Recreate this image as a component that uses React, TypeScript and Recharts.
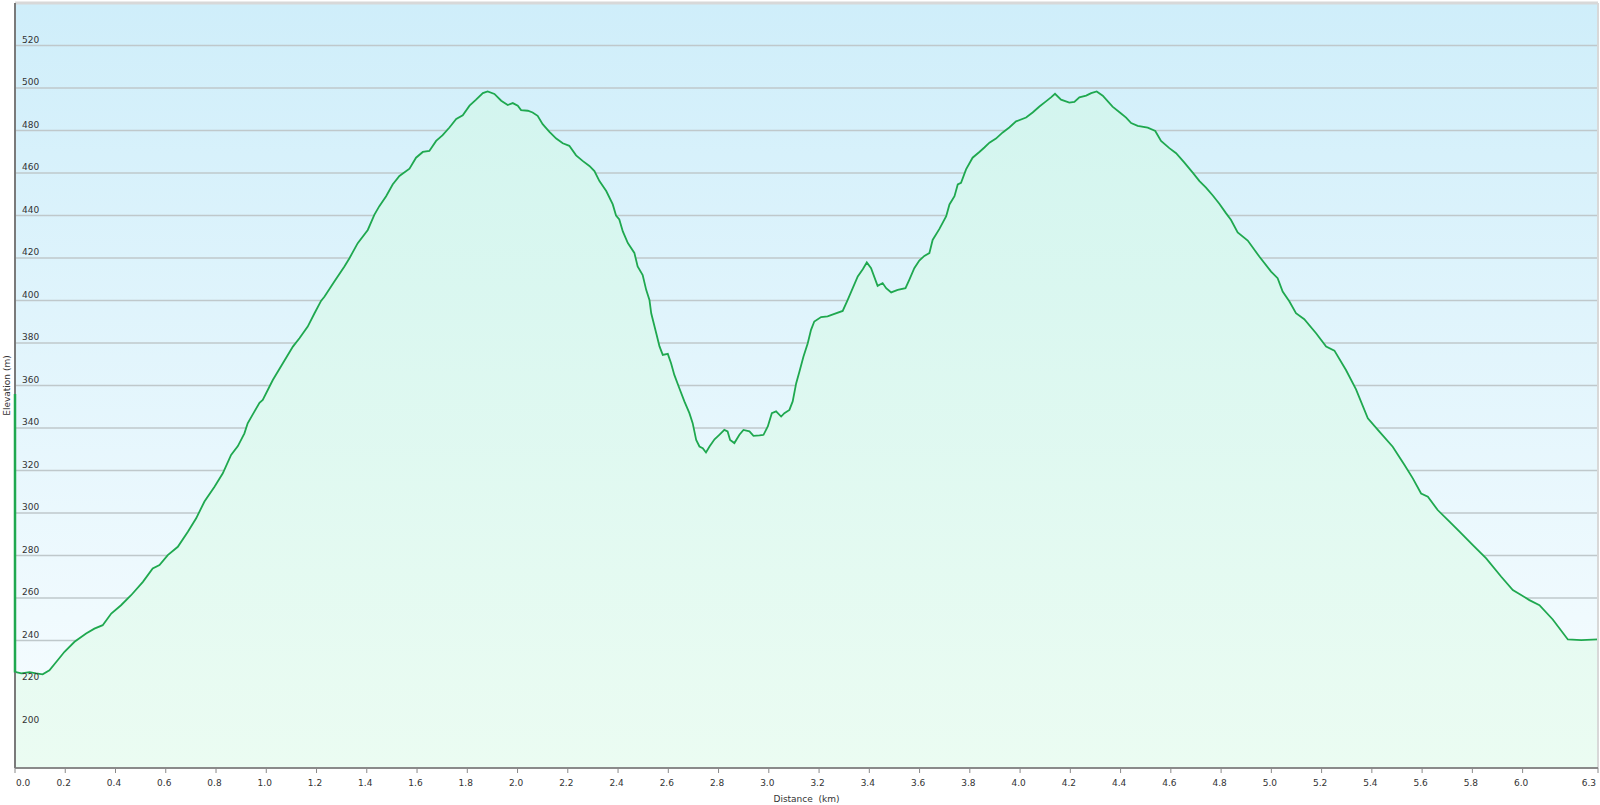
import { AreaChart, Area, XAxis, YAxis, CartesianGrid, ReferenceLine } from "recharts";

// distance along the track (km)
const DISTANCE = [
  0, 0.025, 0.058, 0.084, 0.11, 0.137, 0.164, 0.197, 0.237, 0.283, 0.316, 0.349, 0.383, 0.422, 0.462,
  0.509, 0.548, 0.575, 0.608, 0.648, 0.688, 0.721, 0.754, 0.794, 0.827, 0.86, 0.887, 0.913, 0.926, 0.973,
  0.986, 1.026, 1.066, 1.106, 1.132, 1.165, 1.192, 1.218, 1.232, 1.271, 1.311, 1.331, 1.364, 1.404, 1.43,
  1.45, 1.477, 1.503, 1.53, 1.57, 1.596, 1.623, 1.649, 1.676, 1.702, 1.729, 1.756, 1.782, 1.809, 1.835,
  1.862, 1.881, 1.908, 1.935, 1.961, 1.981, 2.001, 2.014, 2.041, 2.06, 2.08, 2.1, 2.127, 2.154, 2.18,
  2.206, 2.233, 2.259, 2.286, 2.306, 2.326, 2.353, 2.379, 2.392, 2.405, 2.419, 2.439, 2.465, 2.478, 2.498,
  2.512, 2.525, 2.532, 2.552, 2.565, 2.578, 2.598, 2.611, 2.624, 2.644, 2.664, 2.684, 2.697, 2.711, 2.724,
  2.737, 2.75, 2.764, 2.784, 2.803, 2.823, 2.836, 2.846, 2.863, 2.883, 2.899, 2.923, 2.939, 2.963, 2.979,
  2.996, 3.012, 3.029, 3.049, 3.062, 3.082, 3.095, 3.109, 3.122, 3.138, 3.155, 3.168, 3.181, 3.208, 3.234,
  3.261, 3.294, 3.314, 3.334, 3.354, 3.374, 3.39, 3.407, 3.433, 3.453, 3.467, 3.487, 3.513, 3.544, 3.559,
  3.579, 3.599, 3.619, 3.639, 3.652, 3.679, 3.706, 3.719, 3.739, 3.752, 3.765, 3.785, 3.811, 3.838, 3.858,
  3.878, 3.904, 3.931, 3.957, 3.984, 4.024, 4.05, 4.077, 4.103, 4.123, 4.139, 4.163, 4.196, 4.216, 4.236,
  4.263, 4.283, 4.305, 4.329, 4.368, 4.402, 4.422, 4.442, 4.468, 4.508, 4.538, 4.561, 4.594, 4.621, 4.654,
  4.687, 4.714, 4.74, 4.767, 4.793, 4.82, 4.839, 4.866, 4.906, 4.952, 4.999, 5.025, 5.045, 5.072, 5.098,
  5.131, 5.178, 5.218, 5.251, 5.297, 5.337, 5.384, 5.43, 5.483, 5.53, 5.563, 5.596, 5.623, 5.662, 5.709,
  5.749, 5.802, 5.855, 5.915, 5.961, 5.994, 6.027, 6.067, 6.12, 6.18, 6.233, 6.3,
];

// elevation (m)
const ELEVATION = [
  225.2, 224.5, 225.1, 224.5, 224.1, 226, 229.9, 234.7, 239.4, 243.3, 245.6, 247.2, 252.7, 256.6, 261.3,
  267.6, 273.9, 275.5, 280.2, 284.1, 291.2, 297.5, 305.4, 312.4, 318.7, 327.3, 331.5, 337.5, 342.2, 351.9,
  353.2, 362.6, 370.5, 378.3, 382.2, 387.7, 394, 399.8, 401.9, 408.9, 416, 419.9, 427, 433.2, 440.3,
  444.4, 449.1, 454.6, 458.6, 462, 467.2, 469.9, 470.4, 475.1, 477.8, 481.4, 485.4, 487.2, 491.7, 494.5,
  497.6, 498.4, 497.2, 494, 492, 492.9, 491.7, 489.6, 489.3, 488.5, 486.9, 483, 479.4, 476.2, 474,
  472.8, 468.3, 465.7, 463.3, 460.9, 456.2, 451.5, 445.2, 440, 438.1, 432.5, 427, 422.4, 416, 412,
  405, 400.3, 394, 384.6, 378.4, 374.4, 374.9, 370.5, 365, 358.7, 352.5, 347, 342.3, 334.4, 331.3,
  330.5, 328.5, 331.3, 334.7, 336.8, 339.1, 338.4, 334.4, 332.9, 336.8, 339.1, 338.4, 336.3, 336.5, 336.8,
  340.7, 347, 347.8, 345.4, 347, 348.5, 352.5, 361.1, 366.6, 373.6, 379.9, 386.2, 390.1, 392.2, 392.5,
  393.7, 395.1, 400.3, 405.8, 411.3, 414.7, 417.9, 415.2, 406.9, 408.2, 405.8, 403.8, 405, 405.8, 409.7,
  415.2, 418.8, 421, 422.3, 428.5, 433.7, 439.7, 445.2, 449.1, 454.6, 455.4, 461.7, 467.2, 469.9, 472,
  474.3, 476.2, 479.1, 481.4, 484.3, 486.1, 488.5, 491.3, 493.7, 495.6, 497.3, 494.5, 493.1, 493.5, 495.6,
  496.4, 497.6, 498.4, 496.4, 491.2, 488, 486.1, 483.5, 482.2, 481.3, 479.8, 475.1, 471.7, 469.3, 464.9,
  460.2, 456.2, 453.1, 449.4, 445.5, 441, 438, 432, 428.2, 420.7, 413.6, 410.5, 404.2, 399.5, 394,
  391.2, 384.6, 378.3, 376.4, 367.3, 358.2, 344.6, 338.3, 331.2, 322.6, 316.3, 309.2, 307.7, 301.4, 295.9,
  291.2, 284.9, 278.6, 270, 263.7, 261.4, 259, 256.6, 249.9, 240.5, 240.2, 240.5,
];

const X_TICKS = [
  0, 0.2, 0.4, 0.6, 0.8, 1.0, 1.2, 1.4, 1.6, 1.8, 2.0, 2.2, 2.4, 2.6, 2.8, 3.0, 3.2, 3.4, 3.6, 3.8,
  4.0, 4.2, 4.4, 4.6, 4.8, 5.0, 5.2, 5.4, 5.6, 5.8, 6.0, 6.3,
];
const Y_TICKS = [200, 220, 240, 260, 280, 300, 320, 340, 360, 380, 400, 420, 440, 460, 480, 500, 520];
const X_DOMAIN = [0, 6.3];
const Y_DOMAIN = [180, 540];
// stray vertical stroke at the start of the profile
const START_STROKE = [356, 225];

const data = DISTANCE.map((d, i) => ({ d, elev: ELEVATION[i] }));

const FONT = "'DejaVu Sans', Verdana, sans-serif";
const LINE = "#1fa84f";

function YTick({ y, payload }: any) {
  return (
    <text x={22} y={y - 3} fontSize={9} fill="#333" fontFamily={FONT}>
      {payload.value}
    </text>
  );
}

function XTick({ x, y, payload }: any) {
  const v = payload.value;
  const last = v === X_DOMAIN[1];
  const anchor = v === 0 ? "start" : last ? "end" : "middle";
  const dx = v === 0 ? 1 : last ? -2 : -1.5;
  return (
    <text x={x + dx} y={y + 11} fontSize={9} fill="#333" fontFamily={FONT} textAnchor={anchor}>
      {v.toFixed(1)}
    </text>
  );
}

export default function App() {
  return (
    <div style={{ position: "absolute", left: 0, top: 0, width: 1600, height: 805, background: "#fff" }}>
      <AreaChart width={1600} height={805} data={data} margin={{ top: 3, right: 2, bottom: 0, left: 0 }}>
        <defs>
          <linearGradient id="bgGrad" x1="0" y1="0" x2="0" y2="1">
            <stop offset="0%" stopColor="#cfeefa" />
            <stop offset="100%" stopColor="#f8fdff" />
          </linearGradient>
          <linearGradient id="areaGrad" x1="0" y1="0" x2="0" y2="1">
            <stop offset="0%" stopColor="#d3f5ef" />
            <stop offset="100%" stopColor="#ebfcf2" />
          </linearGradient>
        </defs>
        <CartesianGrid vertical={false} stroke="#bfc8cb" strokeWidth={1.3} fill="url(#bgGrad)" fillOpacity={1} />
        <XAxis
          dataKey="d"
          type="number"
          domain={X_DOMAIN}
          ticks={X_TICKS}
          interval={0}
          height={37}
          tick={<XTick />}
          tickSize={5}
          axisLine={{ stroke: "#8a8a8a", strokeWidth: 2 }}
          tickLine={{ stroke: "#8a8a8a" }}
          label={{
            value: "Distance\u00a0\u00a0(km)",
            position: "insideBottom",
            offset: 3,
            fontSize: 9,
            fill: "#333",
            fontFamily: FONT,
          }}
        />
        <YAxis
          type="number"
          domain={Y_DOMAIN}
          ticks={Y_TICKS}
          interval={0}
          width={15}
          tick={<YTick />}
          tickLine={false}
          axisLine={{ stroke: "#7a7a7a", strokeWidth: 2 }}
          label={{
            value: "Elevation (m)",
            angle: -90,
            position: "center",
            dx: -1,
            fontSize: 9,
            fill: "#333",
            fontFamily: FONT,
          }}
        />
        <ReferenceLine y={Y_DOMAIN[1]} stroke="#d8d8d8" strokeWidth={3} />
        <ReferenceLine x={X_DOMAIN[1]} stroke="#d8d8d8" strokeWidth={2} />
        <Area
          type="linear"
          dataKey="elev"
          stroke={LINE}
          strokeWidth={1.8}
          fill="url(#areaGrad)"
          fillOpacity={1}
          isAnimationActive={false}
          dot={false}
          activeDot={false}
        />
        <ReferenceLine
          segment={[
            { x: 0, y: START_STROKE[0] },
            { x: 0, y: START_STROKE[1] },
          ]}
          ifOverflow="visible"
          zIndex={900}
          stroke={LINE}
          strokeWidth={2.5}
        />
      </AreaChart>
    </div>
  );
}
